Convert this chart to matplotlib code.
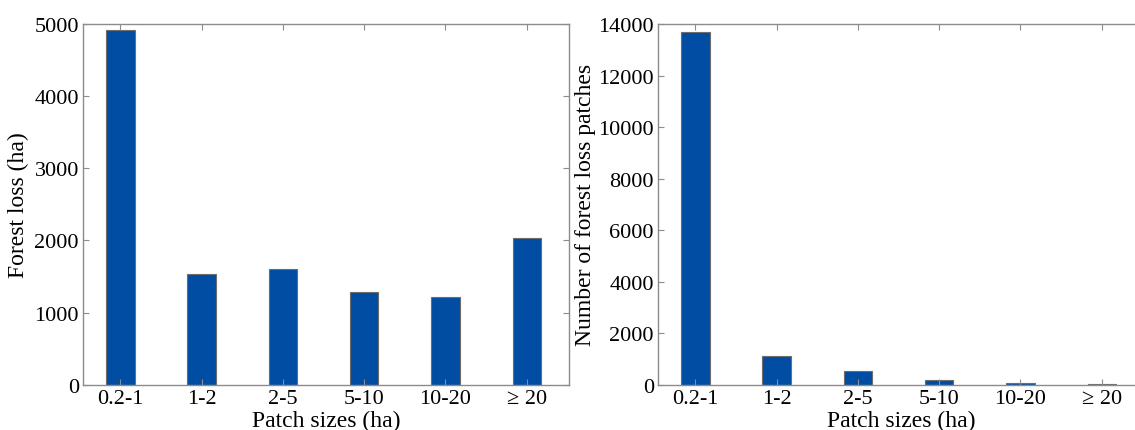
import matplotlib
matplotlib.use("Agg")
import matplotlib.pyplot as plt

categories = ["0.2-1", "1-2", "2-5", "5-10", "10-20", "≥ 20"]
forest_loss_ha = [4920, 1540, 1600, 1290, 1210, 2040]
patch_counts = [13700, 1130, 520, 180, 70, 30]
left_yticks = [0, 1000, 2000, 3000, 4000, 5000]
right_yticks = [0, 2000, 4000, 6000, 8000, 10000, 12000, 14000]

plt.rcParams['font.family'] = ['Liberation Serif', 'DejaVu Serif']

W, H = 1135, 431
fig = plt.figure(figsize=(W / 100, H / 100), dpi=100)

bar_color = "#004DA3"
spine_color = "#8c8c8c"

def make_axes(left_px, values, yticks, ylabel, ylab_x):
    ax = fig.add_axes([left_px / W, (H - 385.7) / H, 486 / W, (385.7 - 25) / H])
    x = list(range(len(categories)))
    ax.bar(x, values, width=0.35, color=bar_color, edgecolor="#6d6d6d", linewidth=0.8)
    ax.set_xlim(-0.46, 5.52)
    ax.set_ylim(yticks[0], yticks[-1])
    ax.set_yticks(yticks)
    ax.set_yticklabels([str(t) for t in yticks])
    ax.set_xticks(x)
    ax.set_xticklabels(categories)
    ax.tick_params(axis='both', direction='in', length=4, width=0.8, color=spine_color,
                   labelsize=16, pad=3, top=True, right=True)
    for s in ax.spines.values():
        s.set_color(spine_color)
        s.set_linewidth(1.0)
    ax.set_xlabel("Patch sizes (ha)", fontsize=17)
    ax.xaxis.set_label_coords(0.5, -0.07)
    ax.set_ylabel(ylabel, fontsize=17)
    ax.yaxis.set_label_coords(ylab_x, 0.5)
    return ax

make_axes(83, forest_loss_ha, left_yticks, "Forest loss (ha)", -0.112)
make_axes(658, patch_counts, right_yticks, "Number of forest loss patches", -0.128)

fig.savefig("out.png", dpi=100)
